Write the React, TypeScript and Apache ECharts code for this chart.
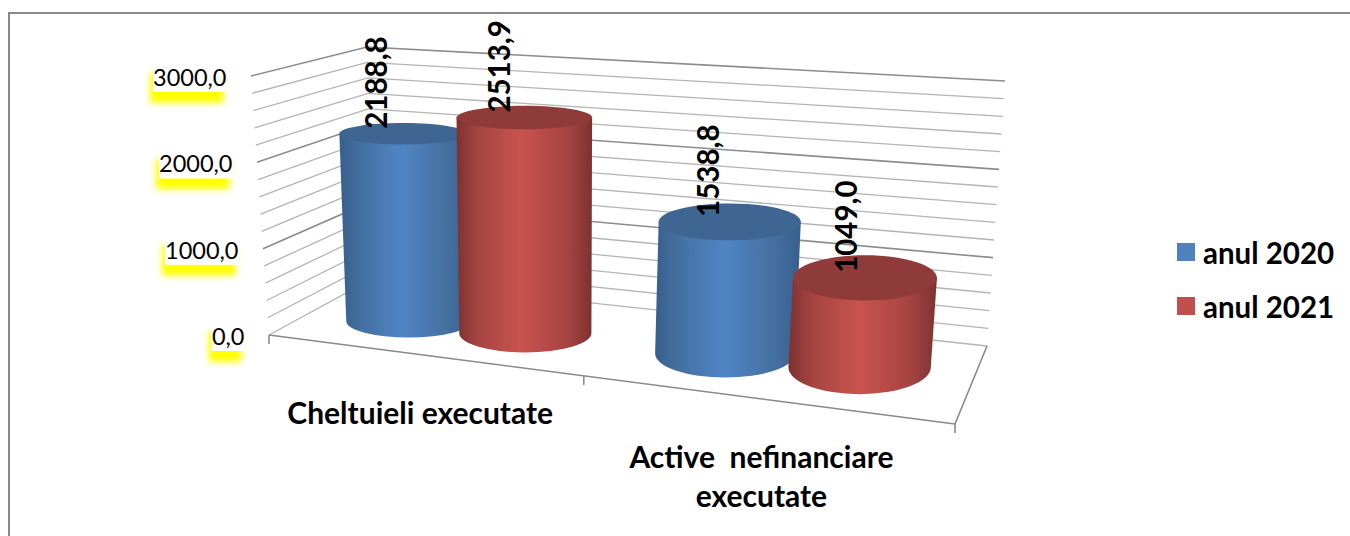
import React, { useEffect, useRef } from "react";
import * as echarts from "echarts";

const categories = ["Cheltuieli executate", "Active  nefinanciare\nexecutate"];
const values2020 = [2188.8, 1538.8];
const values2021 = [2513.9, 1049.0];
const seriesNames = ["anul 2020", "anul 2021"];
const gridValues = [0, 200, 400, 600, 800, 1000, 1200, 1400, 1600, 1800, 2000, 2200, 2400, 2600, 2800, 3000];
const tickValues = [0, 1000, 2000, 3000];
const tickLabels = ["0,0", "1000,0", "2000,0", "3000,0"];

const FONT = "Lato, Carlito, Calibri, sans-serif";
const W = 1350;
const H = 536;
const GRID = { left: 100, top: 100, width: 1000, height: 300 };

type P = [number, number];
const lerp = (a: P, b: P, t: number): P => [a[0] + (b[0] - a[0]) * t, a[1] + (b[1] - a[1]) * t];
// Corners of the perspective box
const FL: P = [269, 335], FR: P = [955, 424], BL: P = [372, 279], BR: P = [987, 346];
const FLT: P = [251, 76], FRT: P = [980, 169], BLT: P = [367, 47], BRT: P = [1005, 81];
const persp = (u: number) => (0.848 * u) / (1 - 0.152 * u);
function warp(u: number, v: number, h: number): P {
  const t = persp(u);
  const bottom = lerp(lerp(BL, BR, t), lerp(FL, FR, t), v);
  const top = lerp(lerp(BLT, BRT, t), lerp(FLT, FRT, t), v);
  return lerp(bottom, top, h);
}
const uvh = (p: number[]) => ({
  u: (p[0] - GRID.left) / GRID.width,
  h: (GRID.top + GRID.height - p[1]) / GRID.height,
});

function cylinderRenderer(offset: number, edge: string, mid: string, light: string, topFill: string) {
  return (_params: any, api: any) => {
    const val = api.value(1);
    const p = api.coord([api.value(0), val]);
    const band = api.size([1, 0])[0] / GRID.width;
    const u0 = uvh(p).u + band * offset;
    const u = u0 - 0.014 * u0 + 0.002;
    const h = uvh(p).h * (1.035 - 0.06 * u * u);
    const rxB = 71.5 - 13 * (1 - u) * (1 - u);
    const rxT = rxB * (1 + 0.03 * h);
    const ryB = 13.6 + 15.7 * u;
    const ryT = ryB * (1 - 0.45 * h);
    const v = 0.58 - 0.16 * u;
    const b = warp(u, v, 0);
    const t = warp(u, v, h);
    const d =
      `M${t[0] - rxT} ${t[1]} L${b[0] - rxB} ${b[1]} ` +
      `A${rxB} ${ryB} 0 0 0 ${b[0] + rxB} ${b[1]} L${t[0] + rxT} ${t[1]} Z`;
    const grad = new echarts.graphic.LinearGradient(0, 0, 1, 0, [
      { offset: 0, color: edge },
      { offset: 0.16, color: mid },
      { offset: 0.48, color: light },
      { offset: 0.82, color: mid },
      { offset: 1, color: edge },
    ]);
    return {
      type: "group",
      children: [
        { type: "path", shape: { pathData: d }, style: { fill: grad } },
        { type: "ellipse", shape: { cx: t[0], cy: t[1], rx: rxT, ry: ryT }, style: { fill: topFill } },
        {
          type: "text",
          x: t[0] - 30 + 12 * u,
          y: t[1] - 5,
          rotation: Math.PI / 2,
          z2: 10,
          style: {
            text: val.toFixed(1).replace(".", ","),
            textAlign: "left",
            textVerticalAlign: "middle",
            fontFamily: FONT,
            fontWeight: "bold",
            fontSize: 29.5,
            fill: "#000",
          },
        },
      ],
    };
  };
}

function gridRenderer(_params: any, api: any) {
  const val = api.value(1);
  const { h } = uvh(api.coord([0, val]));
  const major = val % 1000 === 0 && val !== 0;
  return {
    type: "polyline",
    shape: { points: [warp(0, 1, h), warp(0, 0, h), warp(1, 0, h)] },
    style: { fill: "none", stroke: major ? "#8c8c8c" : "#b4b4b4", lineWidth: major ? 1.6 : 1.3 },
  };
}

function floorRenderer() {
  const axis = { fill: "none", stroke: "#8a8a8a", lineWidth: 1.6 };
  const mid = warp(0.5, 1, 0);
  const line = (a: P, b: P) => ({
    type: "line",
    shape: { x1: a[0], y1: a[1], x2: b[0], y2: b[1] },
    style: axis,
  });
  return {
    type: "group",
    children: [
      line(FL, FR),
      line(FR, BR),
      line(FL, [FL[0], FL[1] + 9]),
      line(mid, [mid[0], mid[1] + 9]),
      line(FR, [FR[0], FR[1] + 9]),
    ],
  };
}

function tickLabelRenderer(params: any, api: any) {
  const { h } = uvh(api.coord([0, api.value(1)]));
  const p = warp(0, 1, h);
  return {
    type: "text",
    x: p[0] - 24.5,
    y: p[1] + 1,
    style: {
      text: tickLabels[params.dataIndex],
      textAlign: "right",
      textVerticalAlign: "middle",
      fontFamily: FONT,
      fontSize: 23.5,
      fill: "#000",
      backgroundColor: "#fff",
      padding: [0, 0, 6, 0],
      shadowColor: "#ffff00",
      shadowBlur: 6,
      shadowOffsetX: -3,
      shadowOffsetY: 11,
    },
  };
}

function categoryLabelRenderer(params: any, api: any) {
  const { u } = uvh(api.coord([api.value(0), 0]));
  const p = warp(u, 1, 0);
  return {
    type: "text",
    x: p[0],
    y: p[1] + 37.5,
    style: {
      text: categories[params.dataIndex],
      textAlign: "center",
      textVerticalAlign: "top",
      fontFamily: FONT,
      fontWeight: "bold",
      fontSize: 30,
      lineHeight: 39,
      fill: "#000",
    },
  };
}

export default function App() {
  const ref = useRef<HTMLDivElement>(null);
  useEffect(() => {
    const chart = echarts.init(ref.current!, null, { renderer: "svg" });
    const helper = { type: "custom", silent: true, clip: false, encode: { x: 0, y: 1 } };
    chart.setOption({
      animation: false,
      backgroundColor: "#fff",
      grid: GRID,
      xAxis: { type: "category", data: categories, show: false },
      yAxis: { type: "value", min: 0, max: 3000, interval: 1000, show: false },
      legend: {
        data: seriesNames,
        orient: "vertical",
        left: 1172,
        top: 232,
        icon: "rect",
        itemWidth: 18,
        itemHeight: 18,
        itemGap: 24,
        selectedMode: false,
        textStyle: { fontFamily: FONT, fontWeight: "bold", fontSize: 29.5, color: "#000", padding: [0, 0, 0, 3] },
      },
      graphic: [
        {
          type: "polyline",
          silent: true,
          shape: { points: [[9, H], [9, 13], [W, 13]] },
          style: { fill: "none", stroke: "#888", lineWidth: 2 },
        },
      ],
      series: [
        { ...helper, name: "walls", z: 1, data: gridValues.map((v) => [0, v]), renderItem: gridRenderer },
        { ...helper, name: "floor", z: 1, data: [[0, 0]], renderItem: floorRenderer },
        {
          ...helper,
          name: seriesNames[0],
          z: 3,
          itemStyle: { color: "#4F81BD" },
          data: values2020.map((v, i) => [i, v]),
          renderItem: cylinderRenderer(-0.17, "#385f8e", "#44709f", "#5085c6", "#3f6592"),
        },
        {
          ...helper,
          name: seriesNames[1],
          z: 4,
          itemStyle: { color: "#C0504D" },
          data: values2021.map((v, i) => [i, v]),
          renderItem: cylinderRenderer(0.215, "#7c3230", "#a64442", "#c9534f", "#8f3b39"),
        },
        { ...helper, name: "ticks", z: 5, data: tickValues.map((v) => [0, v]), renderItem: tickLabelRenderer },
        { ...helper, name: "cats", z: 5, data: categories.map((_, i) => [i, 0]), renderItem: categoryLabelRenderer },
      ],
    });
    return () => chart.dispose();
  }, []);
  return <div ref={ref} style={{ position: "absolute", left: 0, top: 0, width: W, height: H }} />;
}
